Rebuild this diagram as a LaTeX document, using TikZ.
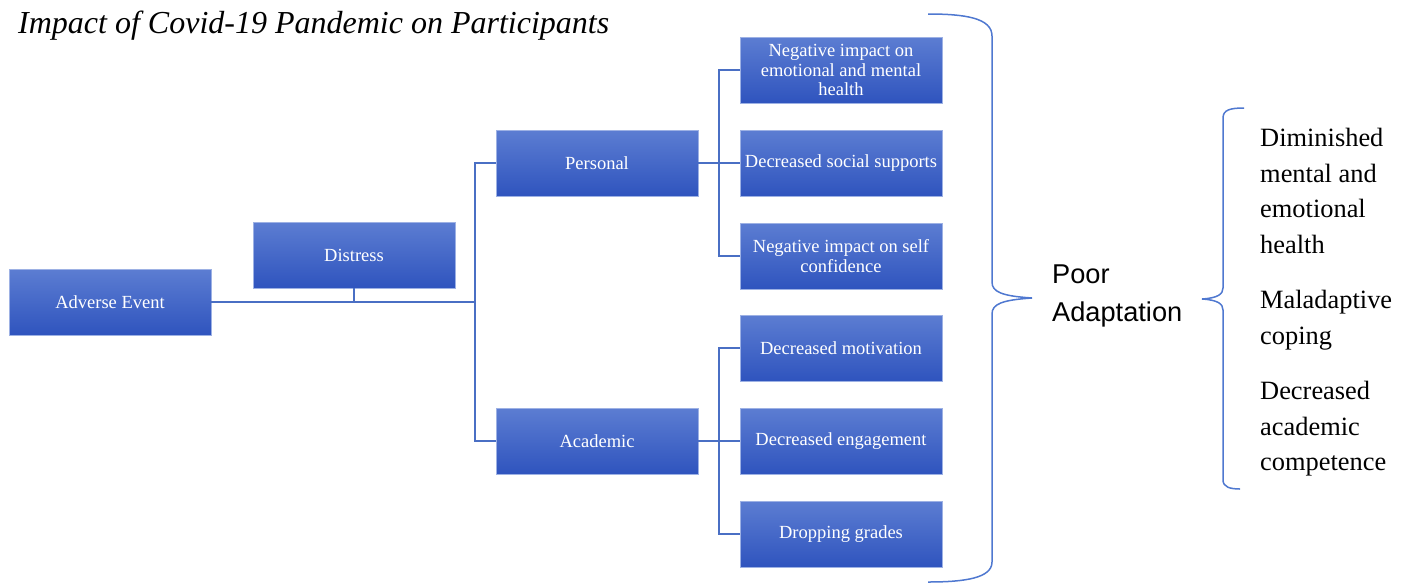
\documentclass[tikz,border=0pt]{standalone}
\usepackage{fontspec}
\setmainfont{Liberation Serif}
\newfontfamily\sansf{Liberation Sans}
\definecolor{boxtop}{HTML}{5C7DD2}
\definecolor{boxbot}{HTML}{2F54BE}
\definecolor{linec}{HTML}{4A6FC4}
\definecolor{bracec}{HTML}{4F78D0}
\tikzset{
  bx/.style={rectangle, top color=boxtop, bottom color=boxbot, draw=boxtop!60!white, line width=0.6pt,
    minimum width=202pt, minimum height=66pt, inner sep=2pt, align=center, text=white,
    font=\fontsize{18.5}{19.5}\selectfont},
  conn/.style={draw=linec, line width=1.4pt},
  brc/.style={draw=bracec, line width=1.5pt},
  rtext/.style={anchor=west, align=left, inner sep=0pt, font=\fontsize{26.4}{35.5}\selectfont},
}
\begin{document}
\begin{tikzpicture}[x=1pt,y=-1pt]
\useasboundingbox (0,0) rectangle (1408,584);
\node[anchor=west, inner sep=0pt, font=\fontsize{32}{34}\selectfont\itshape] (title) at (18,26) {Impact of Covid-19 Pandemic on Participants};
\node[bx] (ae) at (110,302) {Adverse Event};
\node[bx] (ds) at (354,255) {Distress};
\node[bx] (pe) at (597,163) {Personal};
\node[bx] (ac) at (597,441) {Academic};
\node[bx] (b1) at (841,70) {Negative impact on\\emotional and mental\\health};
\node[bx] (b2) at (841,163) {Decreased social supports};
\node[bx] (b3) at (841,256) {Negative impact on self\\confidence};
\node[bx] (b4) at (841,348) {Decreased motivation};
\node[bx] (b5) at (841,441) {Decreased engagement};
\node[bx] (b6) at (841,534) {Dropping grades};
\coordinate (jx) at (475,302);
\coordinate (px) at (719,163);
\coordinate (ax) at (719,441);
% connectors
\draw[conn] (ae.east) -- (jx);
\draw[conn] (ds.south) -- (ds.south |- jx);
\draw[conn] (pe.west) -| (jx) |- (ac.west);
\draw[conn] (pe.east) -- (b2.west);
\draw[conn] (b1.west) -| (px) |- (b3.west);
\draw[conn] (ac.east) -- (b5.west);
\draw[conn] (b4.west) -| (ax) |- (b6.west);
% big brace
\draw[brc] (928,14) .. controls (965,14) and (992,18) .. (992,36) -- (992,282)
  .. controls (992,292) and (1002,296) .. (1032,298)
  .. controls (1002,300) and (992,304) .. (992,314) -- (992,562)
  .. controls (992,578) and (965,582) .. (928,582);
% small brace
\draw[brc] (1244,108) .. controls (1230,108) and (1223,110) .. (1223,118) -- (1223,288)
  .. controls (1223,294) and (1218,298) .. (1202,299)
  .. controls (1218,300) and (1223,304) .. (1223,310) -- (1223,480)
  .. controls (1223,487) and (1230,489) .. (1240,489);
\node[anchor=west, align=left, inner sep=0pt, font=\sansf\fontsize{27.2}{38}\selectfont] (pa) at (1052,296) {Poor\\Adaptation};
\node[rtext] (r1) at (1260,191) {Diminished\\mental and\\emotional\\health};
\node[rtext] (r2) at (1260,320) {Maladaptive\\coping};
\node[rtext] (r3) at (1260,429) {Decreased\\academic\\competence};
\end{tikzpicture}
\end{document}
